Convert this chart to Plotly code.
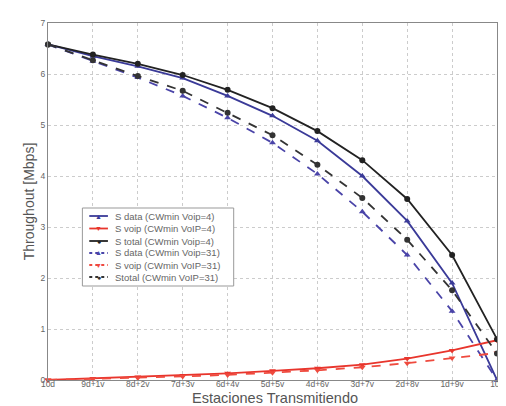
import plotly.graph_objects as go

categories = ["10d", "9d+1v", "8d+2v", "7d+3v", "6d+4v", "5d+5v", "4d+6v", "3d+7v", "2d+8v", "1d+9v", "10v"]

data_cw4 = [6.58, 6.35, 6.15, 5.92, 5.57, 5.18, 4.69, 4.0, 3.12, 1.9, 0.0]
voip_cw4 = [0.0, 0.03, 0.06, 0.09, 0.13, 0.18, 0.23, 0.3, 0.42, 0.58, 0.78]
total_cw4 = [6.58, 6.38, 6.2, 5.98, 5.69, 5.33, 4.88, 4.31, 3.55, 2.45, 0.8]
data_cw31 = [6.58, 6.25, 5.93, 5.57, 5.14, 4.65, 4.04, 3.3, 2.45, 1.35, 0.0]
voip_cw31 = [0.0, 0.02, 0.04, 0.07, 0.1, 0.14, 0.19, 0.25, 0.33, 0.43, 0.53]
total_cw31 = [6.58, 6.27, 5.96, 5.67, 5.24, 4.8, 4.22, 3.57, 2.75, 1.76, 0.52]

series = [
    ("S data (CWmin Voip=4)", data_cw4, "#3a3a98", "solid", "triangle-up", "\u25B2"),
    ("S voip (CWmin VoIP=4)", voip_cw4, "#e8352c", "solid", "triangle-down", "\u25BC"),
    ("S total (CWmin Voip=4)", total_cw4, "#222222", "solid", "circle", "\u25CF"),
    ("S data (CWmin Voip=31)", data_cw31, "#4a44a8", "dash", "triangle-up", "\u25B2"),
    ("S voip (CWmin VoIP=31)", voip_cw31, "#ef4a3e", "dash", "triangle-down", "\u25BC"),
    ("Stotal (CWmin VoIP=31)", total_cw31, "#333333", "dash", "circle", "\u25CF"),
]

# plot area in pixels
L, R, T, B = 40, 497, 15, 372
W, H = 506, 406

def px(xp):
    return (xp - L) / (R - L)

def py(yp):
    return (B - yp) / (B - T)

x = list(range(len(categories)))
fig = go.Figure()
for name, vals, color, dash, sym, glyph in series:
    fig.add_trace(go.Scatter(
        x=x, y=vals, name=name, mode="lines+markers",
        line=dict(color=color, width=1.8, dash=dash),
        marker=dict(symbol=sym, size=6, color=color),
        cliponaxis=False, showlegend=False,
    ))

# custom compact legend
shapes = [dict(type="rect", xref="paper", yref="paper",
               x0=px(75), x1=px(229), y0=py(278), y1=py(200),
               line=dict(color="#999999", width=1), fillcolor="white", layer="above")]
annotations = []
row_y = [208, 220.5, 233, 245, 257, 269]
for (name, vals, color, dash, sym, glyph), ry in zip(series, row_y):
    shapes.append(dict(type="line", xref="paper", yref="paper",
                       x0=px(82), x1=px(101), y0=py(ry), y1=py(ry),
                       line=dict(color=color, width=1.8, dash="dot" if dash == "dash" else "solid"),
                       layer="above"))
    annotations.append(dict(xref="paper", yref="paper", x=px(91.5), y=py(ry),
                            text=glyph, showarrow=False, xanchor="center", yanchor="middle",
                            font=dict(size=7, color=color)))
    annotations.append(dict(xref="paper", yref="paper", x=px(106), y=py(ry),
                            text=name, showarrow=False, xanchor="left", yanchor="middle",
                            font=dict(size=9.5, color="#666666")))

annotations.append(dict(xref="paper", yref="paper", x=px(271), y=py(390),
                        text="Estaciones Transmitiendo", showarrow=False,
                        xanchor="center", yanchor="middle",
                        font=dict(size=14.5, color="#555555")))

fig.update_layout(
    width=W, height=H,
    margin=dict(l=L, r=W - R, t=T, b=H - B),
    paper_bgcolor="white", plot_bgcolor="white",
    font=dict(family="Liberation Sans, Arial", color="#555555", size=9),
    showlegend=False,
    shapes=shapes, annotations=annotations,
    xaxis=dict(
        range=[0, 10], tickmode="array", tickvals=x, ticktext=categories,
        showgrid=True, gridcolor="#cccccc", griddash="dot", gridwidth=1,
        showline=True, linecolor="#888888", mirror=True,
        ticks="", ticklabelstandoff=-4, tickfont=dict(size=8.5, color="#666666"), zeroline=False,
    ),
    yaxis=dict(
        range=[0, 7], dtick=1,
        showgrid=True, gridcolor="#cccccc", griddash="dot", gridwidth=1,
        showline=True, linecolor="#888888", mirror=True,
        ticks="", tickfont=dict(size=8.5, color="#666666"), zeroline=False,
        title=dict(text="Throughout [Mbps]", font=dict(size=14, color="#555555"), standoff=2),
    ),
)

fig.write_html("out.html")
